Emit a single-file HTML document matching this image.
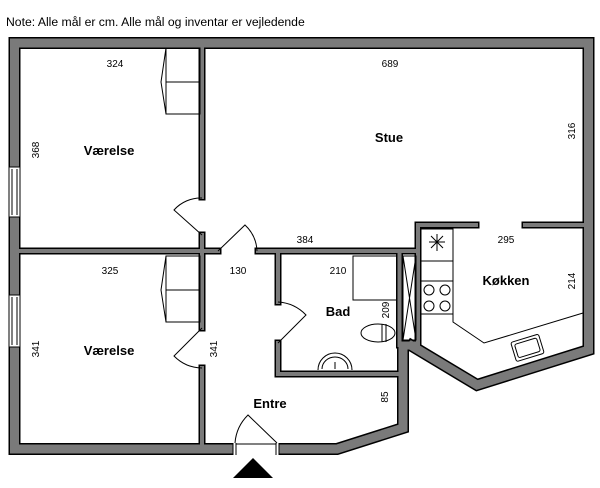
<!DOCTYPE html>
<html><head><meta charset="utf-8"><style>
html,body{margin:0;padding:0;background:#fff;width:600px;height:488px;overflow:hidden}
svg{display:block}
text{font-family:"Liberation Sans",sans-serif;fill:#000}
.b{font-weight:bold;font-size:13px}
.n{font-size:10px}
</style></head><body>
<svg width="600" height="488" viewBox="0 0 600 488">
<text x="6" y="26" font-size="12.2">Note: Alle mål er cm. Alle mål og inventar er vejledende</text>
<g fill="none" stroke-linejoin="miter" stroke-linecap="square">
 <g stroke="#000">
  <polyline points="14.5,43 588.5,43 588.5,350 477,385 412,346" stroke-width="12"/>
  <polyline points="14.5,43 14.5,449 337,449 403,428 403,350" stroke-width="12"/>
  <rect x="398" y="341" width="22" height="9" stroke-width="2"/>
  <polyline points="202,48 202,197" stroke-width="7"/>
  <polyline points="202,235 202,328" stroke-width="7"/>
  <polyline points="202,368 202,444" stroke-width="7"/>
  <polyline points="20,251 202,251 218,251" stroke-width="7"/>
  <polyline points="258,251 416,251" stroke-width="7"/>
  <polyline points="278,251 278,302" stroke-width="7"/>
  <polyline points="278,343 278,374 399,374" stroke-width="7"/>
  <polyline points="399.5,251 399.5,345" stroke-width="7"/>
  <polyline points="476,225 418,225 418,345" stroke-width="7"/>
  <polyline points="525,225 588,225" stroke-width="7"/>
 </g>
 <g stroke="#7a7a7a">
  <polyline points="14.5,43 588.5,43 588.5,350 477,385 412,346" stroke-width="9"/>
  <polyline points="14.5,43 14.5,449 337,449 403,428 403,350" stroke-width="9"/>
  <rect x="399" y="342" width="20" height="7" stroke-width="1" fill="#7a7a7a"/>
  <polyline points="202,48 202,197" stroke-width="4"/>
  <polyline points="202,235 202,328" stroke-width="4"/>
  <polyline points="202,368 202,444" stroke-width="4"/>
  <polyline points="20,251 202,251 218,251" stroke-width="4"/>
  <polyline points="258,251 416,251" stroke-width="4"/>
  <polyline points="278,251 278,302" stroke-width="4"/>
  <polyline points="278,343 278,374 399,374" stroke-width="4"/>
  <polyline points="399.5,251 399.5,345" stroke-width="4"/>
  <polyline points="476,225 418,225 418,345" stroke-width="4"/>
  <polyline points="525,225 588,225" stroke-width="4"/>
 </g>
</g>
<g fill="#fff" stroke="#000" stroke-width="1">
 <rect x="9" y="167" width="11" height="50"/><line x1="12" y1="169" x2="12" y2="215"/><line x1="17" y1="169" x2="17" y2="215"/>
 <rect x="9" y="295" width="11" height="52"/><line x1="12" y1="297" x2="12" y2="345"/><line x1="17" y1="297" x2="17" y2="345"/>
 <rect x="233" y="443" width="46" height="12" stroke="none"/>
 <line x1="233" y1="443" x2="233" y2="455"/><line x1="279" y1="443" x2="279" y2="455"/>
 <line x1="236" y1="443" x2="236" y2="455"/><line x1="276" y1="443" x2="276" y2="455"/>
 <line x1="236" y1="444" x2="276" y2="444"/>
</g>
<polygon points="233,478 273,478 253,458" fill="#000"/>
<g fill="none" stroke="#000" stroke-width="1">
 <path d="M202,235 L174,210 A36,36 0 0 1 202,198"/>
 <path d="M218,251 L245,225 A38,38 0 0 1 257,251"/>
 <path d="M202,328 L174,356 A40,40 0 0 0 202,368"/>
 <path d="M278,343 L306,315 A42,42 0 0 0 278,302"/>
 <path d="M277,443 L248,415 A44,44 0 0 0 235,443"/>
 <rect x="166" y="48" width="34" height="66"/><line x1="166" y1="82" x2="200" y2="82"/><polyline points="166,48 161,82 166,114"/>
 <rect x="166" y="256" width="34" height="66"/><line x1="166" y1="290" x2="200" y2="290"/><polyline points="166,256 161,290 166,322"/>
 <rect x="353" y="256" width="44" height="44"/>
 <ellipse cx="378" cy="333" rx="17" ry="9"/>
 <line x1="382" y1="324" x2="382" y2="342"/><line x1="386" y1="324" x2="386" y2="342"/>
 <path d="M318,370 A17,17 0 0 1 352,370"/><path d="M322,369 A13,12 0 0 1 348,369"/>
 <line x1="335" y1="362" x2="335" y2="369"/>
 <rect x="403" y="256" width="13" height="84"/><line x1="403" y1="256" x2="416" y2="340"/><line x1="416" y1="256" x2="403" y2="340"/>
 <polyline points="421,229 453,229 453,322 484,343 583,313"/>
 <line x1="421" y1="261" x2="453" y2="261"/><line x1="421" y1="281" x2="453" y2="281"/><line x1="421" y1="314" x2="453" y2="314"/>
 <circle cx="429" cy="290" r="5"/><circle cx="445" cy="290" r="5"/><circle cx="429" cy="306" r="5"/><circle cx="445" cy="306" r="5"/>
 <line x1="437" y1="234" x2="437" y2="251"/><line x1="429" y1="242" x2="445" y2="242"/><line x1="431" y1="236" x2="443" y2="248"/><line x1="443" y1="236" x2="431" y2="248"/>
 <g transform="rotate(-17 527 348)"><rect x="513" y="338" width="29" height="20" rx="2"/><rect x="516" y="341" width="23" height="14" rx="2"/></g>
</g>
<text class="n" x="115" y="67" text-anchor="middle">324</text>
<text class="n" x="390" y="67" text-anchor="middle">689</text>
<text class="n" x="305" y="243" text-anchor="middle">384</text>
<text class="n" x="506" y="243" text-anchor="middle">295</text>
<text class="n" x="238" y="274" text-anchor="middle">130</text>
<text class="n" x="338" y="274" text-anchor="middle">210</text>
<text class="n" x="110" y="274" text-anchor="middle">325</text>
<text class="n" text-anchor="middle" transform="translate(39,150) rotate(-90)">368</text>
<text class="n" text-anchor="middle" transform="translate(575,131) rotate(-90)">316</text>
<text class="n" text-anchor="middle" transform="translate(575,281) rotate(-90)">214</text>
<text class="n" text-anchor="middle" transform="translate(389,310) rotate(-90)">209</text>
<text class="n" text-anchor="middle" transform="translate(39,349) rotate(-90)">341</text>
<text class="n" text-anchor="middle" transform="translate(217,349) rotate(-90)">341</text>
<text class="n" text-anchor="middle" transform="translate(388,397) rotate(-90)">85</text>
<text class="b" x="109" y="155" text-anchor="middle">Værelse</text>
<text class="b" x="109" y="355" text-anchor="middle">Værelse</text>
<text class="b" x="389" y="142" text-anchor="middle">Stue</text>
<text class="b" x="506" y="285" text-anchor="middle">Køkken</text>
<text class="b" x="338" y="316" text-anchor="middle">Bad</text>
<text class="b" x="270" y="408" text-anchor="middle">Entre</text>
</svg>
</body></html>
